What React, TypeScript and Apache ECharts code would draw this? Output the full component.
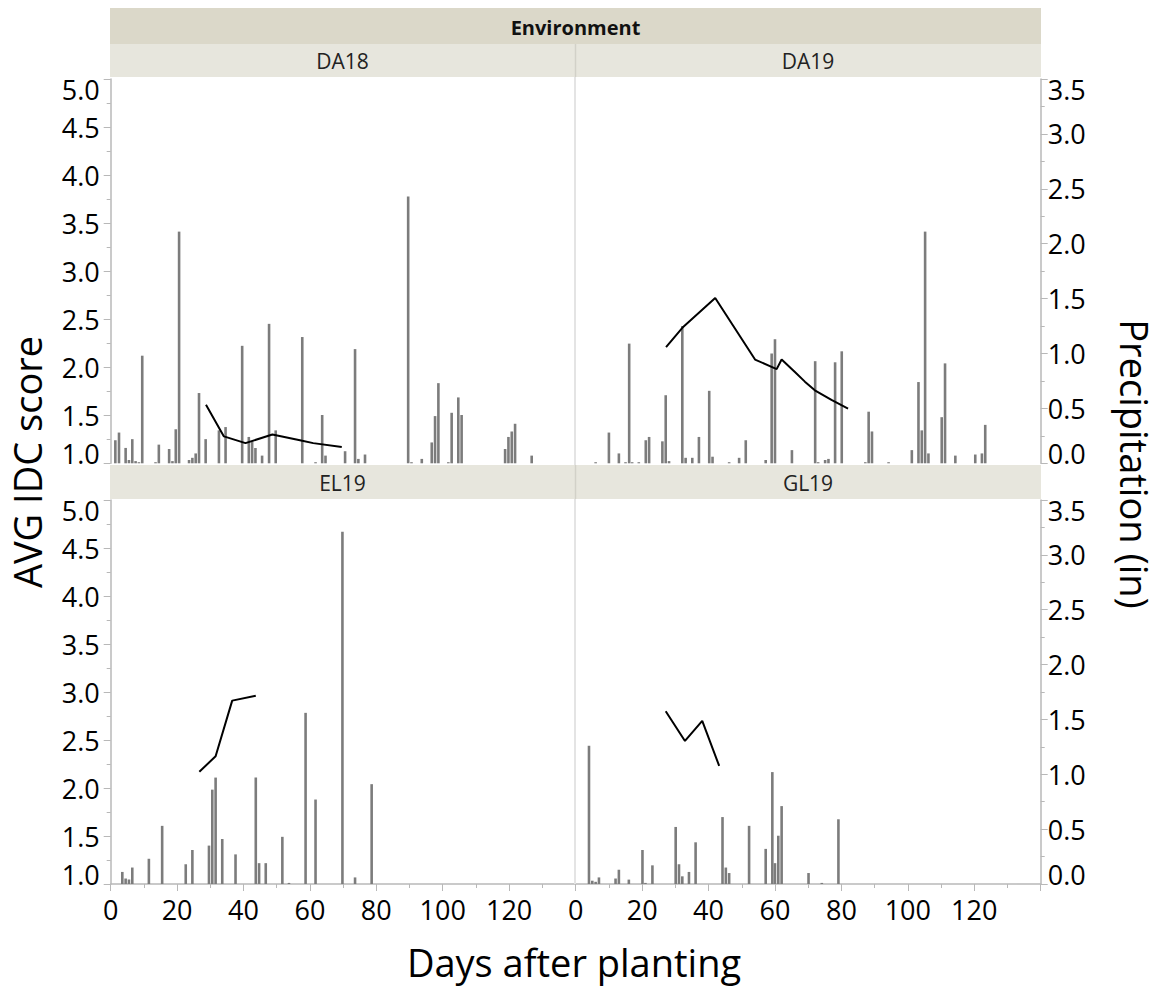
import React, { useEffect, useRef } from "react";
import * as echarts from "echarts";

// ---------- DATA ----------
const panelNames = ["DA18", "DA19", "EL19", "GL19"];
const xTicks = [0, 20, 40, 60, 80, 100, 120];

// DA18
const da18BarDays = [1.4, 2.5, 4.5, 5.5, 6.5, 7.5, 8.5, 9.5, 13.5, 14.5, 17.6, 18.6, 19.6, 20.6, 23.6, 24.6, 25.6, 26.6, 28.6, 32.6, 34.6, 39.6, 41.6, 42.6, 43.6, 45.6, 47.7, 49.7, 57.7, 61.7, 63.7, 64.7, 70.6, 73.6, 74.6, 76.6, 89.6, 90.6, 93.7, 96.7, 97.7, 98.7, 101.7, 102.7, 104.7, 105.7, 118.8, 119.8, 120.8, 121.8, 126.8];
const da18Precip = [0.21, 0.28, 0.14, 0.03, 0.22, 0.02, 0.01, 0.98, 0.01, 0.17, 0.13, 0.02, 0.31, 2.11, 0.03, 0.05, 0.09, 0.64, 0.22, 0.30, 0.33, 1.07, 0.24, 0.20, 0.14, 0.07, 1.27, 0.30, 1.15, 0.01, 0.44, 0.07, 0.11, 1.04, 0.04, 0.08, 2.43, 0.01, 0.04, 0.19, 0.43, 0.73, 0.01, 0.46, 0.60, 0.44, 0.13, 0.24, 0.29, 0.36, 0.07];
const da18LineDays = [28.7, 34.1, 40.6, 48.7, 57, 61, 69.6];
const da18Idc = [1.61, 1.28, 1.21, 1.30, 1.24, 1.21, 1.17];

// DA19
const da19BarDays = [6.0, 10.0, 13.0, 15.0, 16.1, 17.0, 19.0, 21.1, 22.1, 26.1, 27.1, 28.1, 32.1, 33.1, 35.1, 37.1, 40.2, 41.2, 46.2, 49.2, 51.2, 57.2, 59.0, 60.0, 65.1, 72.1, 73.0, 75.1, 76.1, 78.1, 80.1, 87.2, 88.2, 89.2, 94.2, 101.2, 103.2, 104.2, 105.2, 106.2, 110.2, 111.2, 114.3, 120.3, 122.3, 123.3];
const da19Precip = [0.01, 0.28, 0.09, 0.01, 1.09, 0.01, 0.01, 0.21, 0.24, 0.20, 0.62, 0.02, 1.25, 0.05, 0.05, 0.24, 0.66, 0.06, 0.01, 0.05, 0.21, 0.03, 1.00, 1.13, 0.12, 0.93, 0.01, 0.03, 0.04, 0.92, 1.02, 0.01, 0.47, 0.29, 0.01, 0.12, 0.74, 0.30, 2.11, 0.09, 0.42, 0.91, 0.07, 0.08, 0.09, 0.35];
const da19LineDays = [27.2, 32.1, 42, 54, 60.5, 62, 66, 69, 72, 77, 82];
const da19Idc = [2.21, 2.41, 2.72, 2.08, 1.98, 2.08, 1.95, 1.85, 1.76, 1.66, 1.57];

// EL19
const el19BarDays = [3.5, 4.5, 5.5, 6.5, 11.5, 15.5, 22.6, 24.6, 29.6, 30.6, 31.6, 33.6, 37.6, 43.7, 44.7, 46.7, 51.7, 53.7, 58.7, 61.7, 69.8, 73.6, 78.6];
const el19Precip = [0.11, 0.05, 0.04, 0.15, 0.23, 0.53, 0.18, 0.31, 0.35, 0.86, 0.97, 0.41, 0.27, 0.97, 0.19, 0.19, 0.43, 0.01, 1.56, 0.77, 3.21, 0.06, 0.91];
const el19LineDays = [26.7, 31.6, 36.6, 43.7];
const el19Idc = [2.17, 2.33, 2.91, 2.96];

// GL19
const gl19BarDays = [4.0, 5.0, 6.0, 7.0, 12.0, 13.0, 16.0, 20.1, 21.0, 23.1, 30.1, 31.1, 32.1, 34.1, 36.1, 44.2, 45.2, 46.2, 52.2, 57.2, 59.2, 60.0, 61.0, 62.0, 70.1, 74.1, 79.1];
const gl19Precip = [1.26, 0.03, 0.02, 0.06, 0.05, 0.13, 0.04, 0.31, 0.01, 0.17, 0.52, 0.18, 0.07, 0.11, 0.38, 0.61, 0.15, 0.10, 0.53, 0.32, 1.02, 0.19, 0.44, 0.71, 0.10, 0.01, 0.59];
const gl19LineDays = [27.1, 32.9, 38.1, 43.2];
const gl19Idc = [2.80, 2.49, 2.70, 2.23];

const barDays = [da18BarDays, da19BarDays, el19BarDays, gl19BarDays];
const barPrecip = [da18Precip, da19Precip, el19Precip, gl19Precip];
const lineDays = [da18LineDays, da19LineDays, el19LineDays, gl19LineDays];
const lineIdc = [da18Idc, da19Idc, el19Idc, gl19Idc];

// ---------- LAYOUT ----------
const FONT = "'Open Sans', 'Noto Sans', sans-serif";
const AXIS_COLOR = "#b8b8b8";
const grids = [
  { left: 110.7, top: 79, width: 464.8, height: 384.3 },
  { left: 575.7, top: 79, width: 465, height: 384.3 },
  { left: 110.7, top: 500, width: 464.8, height: 384 },
  { left: 575.7, top: 500, width: 465, height: 384 },
];

export default function App() {
  const ref = useRef<HTMLDivElement>(null);
  useEffect(() => {
    if (!ref.current) return;
    const chart = echarts.init(ref.current, null, { renderer: "svg" });

    const xAxes: any[] = [];
    const yAxes: any[] = [];
    const series: any[] = [];

    grids.forEach((_, i) => {
      const bottom = i >= 2;
      const leftCol = i % 2 === 0;
      xAxes.push({
        type: "value",
        gridIndex: i,
        min: 0,
        max: 140,
        interval: 20,
        splitLine: { show: false },
        axisLine: { show: bottom, lineStyle: { color: AXIS_COLOR, width: 1.5 } },
        axisTick: { show: bottom, length: 7, lineStyle: { color: AXIS_COLOR } },
        minorTick: { show: bottom, splitNumber: 2, length: 4, lineStyle: { color: AXIS_COLOR } },
        axisLabel: {
          show: bottom,
          showMaxLabel: false,
          fontSize: 27,
          fontFamily: FONT,
          color: "#000",
          margin: 12,
          formatter: (v: number) => (xTicks.includes(v) ? String(v) : ""),
        },
      });
      // left axis: AVG IDC score
      yAxes.push({
        type: "value",
        gridIndex: i,
        position: "left",
        show: leftCol,
        min: 1,
        max: 5,
        interval: 0.5,
        splitLine: { show: false },
        axisLine: { show: true, lineStyle: { color: AXIS_COLOR, width: 1.5 } },
        axisTick: { show: true, length: 7, lineStyle: { color: AXIS_COLOR } },
        minorTick: { show: true, splitNumber: 2, length: 4, lineStyle: { color: AXIS_COLOR } },
        axisLabel: {
          fontSize: 27,
          fontFamily: FONT,
          color: "#000",
          margin: 11,
          lineHeight: 20,
          formatter: (v: number) => v.toFixed(1),
          verticalAlignMaxLabel: "top",
          verticalAlignMinLabel: "bottom",
        },
      });
      // right axis: Precipitation
      yAxes.push({
        type: "value",
        gridIndex: i,
        position: "right",
        show: !leftCol,
        min: 0,
        max: 3.5,
        interval: 0.5,
        splitLine: { show: false },
        axisLine: { show: true, lineStyle: { color: AXIS_COLOR, width: 1.5 } },
        axisTick: { show: true, length: 7, lineStyle: { color: AXIS_COLOR } },
        minorTick: { show: true, splitNumber: 2, length: 4, lineStyle: { color: AXIS_COLOR } },
        axisLabel: {
          fontSize: 27,
          fontFamily: FONT,
          color: "#000",
          margin: 7,
          lineHeight: 20,
          formatter: (v: number) => v.toFixed(1),
          verticalAlignMaxLabel: "top",
          verticalAlignMinLabel: "bottom",
        },
      });
      series.push({
        type: "bar",
        name: panelNames[i] + " precipitation",
        xAxisIndex: i,
        yAxisIndex: 2 * i + 1,
        barWidth: 2.6,
        itemStyle: { color: "#7c7c7c" },
        data: barDays[i].map((d, k) => [d, barPrecip[i][k]]),
        z: 2,
      });
      series.push({
        type: "line",
        name: panelNames[i] + " IDC",
        xAxisIndex: i,
        yAxisIndex: 2 * i,
        symbol: "none",
        showSymbol: false,
        lineStyle: { color: "#000", width: 2 },
        data: lineDays[i].map((d, k) => [d, lineIdc[i][k]]),
        z: 5,
      });
    });

    const stripText = (text: string, x: number, y: number) => ({
      type: "text",
      x,
      y,
      style: {
        text,
        font: `21px ${FONT}`,
        fill: "#222",
        textAlign: "center",
        textVerticalAlign: "middle",
      },
      z: 10,
    });

    const graphic: any[] = [
      // Environment header
      { type: "rect", shape: { x: 110, y: 8, width: 931, height: 36 }, style: { fill: "#dbd8c9" }, z: 5 },
      {
        type: "text",
        x: 575.5,
        y: 27,
        style: { text: "Environment", font: `bold 20px ${FONT}`, fill: "#111", textAlign: "center", textVerticalAlign: "middle" },
        z: 10,
      },
      // panel strips
      { type: "rect", shape: { x: 110, y: 44, width: 931, height: 33 }, style: { fill: "#e7e6dd" }, z: 5 },
      { type: "rect", shape: { x: 110, y: 465, width: 931, height: 34 }, style: { fill: "#e7e6dd" }, z: 5 },
      { type: "line", shape: { x1: 575.5, y1: 44, x2: 575.5, y2: 77 }, style: { stroke: "#d2d1c8", lineWidth: 1.5 }, z: 6 },
      { type: "line", shape: { x1: 575.5, y1: 465, x2: 575.5, y2: 499 }, style: { stroke: "#d2d1c8", lineWidth: 1.5 }, z: 6 },
      // panel separators
      { type: "line", shape: { x1: 575, y1: 77, x2: 575, y2: 465 }, style: { stroke: "#e4e4e4", lineWidth: 2 }, z: 1 },
      { type: "line", shape: { x1: 575, y1: 499, x2: 575, y2: 884 }, style: { stroke: "#e4e4e4", lineWidth: 2 }, z: 1 },
      stripText(panelNames[0], 342.5, 61),
      stripText(panelNames[1], 808, 61),
      stripText(panelNames[2], 342.5, 482.5),
      stripText(panelNames[3], 808, 482.5),
      // axis titles
      {
        type: "text",
        x: 27,
        y: 462,
        rotation: Math.PI / 2,
        style: { text: "AVG IDC score", font: `38px ${FONT}`, fill: "#000", textAlign: "center", textVerticalAlign: "middle" },
      },
      {
        type: "text",
        x: 1135,
        y: 464,
        rotation: -Math.PI / 2,
        style: { text: "Precipitation (in)", font: `38px ${FONT}`, fill: "#000", textAlign: "center", textVerticalAlign: "middle" },
      },
      {
        type: "text",
        x: 574,
        y: 962,
        style: { text: "Days after planting", font: `38px ${FONT}`, fill: "#000", textAlign: "center", textVerticalAlign: "middle" },
      },
    ];

    chart.setOption({
      animation: false,
      backgroundColor: "#fff",
      grid: grids.map((g) => ({ ...g, containLabel: false })),
      xAxis: xAxes,
      yAxis: yAxes,
      series,
      graphic,
    });
    return () => chart.dispose();
  }, []);

  return (
    <div
      ref={ref}
      style={{ position: "absolute", left: 0, top: 0, width: 1163, height: 990 }}
    />
  );
}
